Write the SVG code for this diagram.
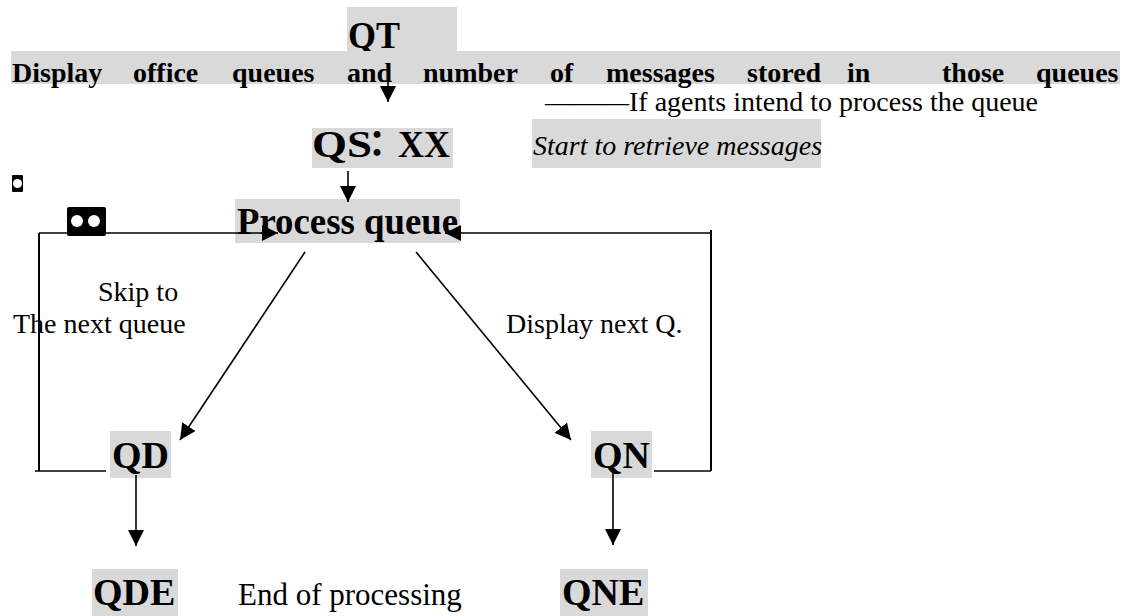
<svg xmlns="http://www.w3.org/2000/svg" width="1131" height="616" viewBox="0 0 1131 616">
<style>
.bg{fill:#d9d9d9}
.b{font-family:"Liberation Serif","Times New Roman",serif;font-weight:bold;fill:#000}
.r{font-family:"Liberation Serif","Times New Roman",serif;fill:#000}
.h{font-size:28px}
.n{font-size:38px}
.t{font-size:28px}
.ln{stroke:#000;stroke-width:1.6;fill:none}
.lv{stroke:#000;stroke-width:2;fill:none}
.ar{stroke:#000;stroke-width:1.6;fill:none;marker-end:url(#ah)}
</style>
<defs>
<marker id="ah" markerUnits="userSpaceOnUse" markerWidth="17" markerHeight="17" viewBox="0 0 17 17" refX="16" refY="8.5" orient="auto">
<path d="M0,0.5 L16,8.5 L0,16.5 Z" fill="#000"/>
</marker>
</defs>
<rect width="1131" height="616" fill="#fff"/>

<g id="node-qt">
<rect class="bg" x="347" y="7" width="110" height="45"/>
<text class="b n" x="348" y="48" textLength="52" lengthAdjust="spacingAndGlyphs">QT</text>
</g>

<g id="node-header">
<rect class="bg" x="11" y="51" width="1109" height="33"/>
<text class="b h" y="82"><tspan x="12">Display</tspan><tspan x="133">office</tspan><tspan x="232">queues</tspan><tspan x="347">and</tspan><tspan x="423">number</tspan><tspan x="550">of</tspan><tspan x="606">messages</tspan><tspan x="747">stored</tspan><tspan x="847">in</tspan><tspan x="942">those</tspan><tspan x="1036">queues</tspan></text>
</g>

<g id="note-agents">
<text class="r t" x="545" y="111">———If agents intend to process the queue</text>
</g>

<g id="node-qs">
<rect class="bg" x="312" y="128" width="141" height="40"/>
<text class="b n" y="157"><tspan x="312" textLength="60" lengthAdjust="spacingAndGlyphs">QS</tspan><tspan x="359" font-family="'Noto Sans CJK JP','Noto Sans CJK SC',sans-serif" font-size="36">：</tspan><tspan x="398" textLength="52" lengthAdjust="spacingAndGlyphs">XX</tspan></text>
</g>

<g id="note-start">
<rect class="bg" x="532" y="119" width="289" height="49"/>
<text class="r t" x="533" y="155" font-style="italic">Start to retrieve messages</text>
</g>

<g id="node-process">
<rect class="bg" x="235" y="199" width="225" height="44"/>
<text class="b n" x="237" y="234" textLength="221" lengthAdjust="spacingAndGlyphs">Process queue</text>
</g>

<g id="node-qd">
<rect class="bg" x="110" y="431" width="61" height="47"/>
<text class="b n" x="112" y="468">QD</text>
</g>

<g id="node-qn">
<rect class="bg" x="591" y="431" width="61" height="47"/>
<text class="b n" x="593" y="468">QN</text>
</g>

<g id="node-qde">
<rect class="bg" x="92" y="569" width="86" height="47"/>
<text class="b n" x="93" y="605">QDE</text>
</g>

<g id="node-qne">
<rect class="bg" x="560" y="569" width="88" height="47"/>
<text class="b n" x="562" y="605">QNE</text>
</g>

<g id="labels">
<text class="r t" x="98" y="301">Skip to</text>
<text class="r t" x="13" y="333">The next queue</text>
<text class="r t" x="506" y="333">Display next Q.</text>
<text class="r" font-size="31" x="238" y="605">End of processing</text>
</g>

<g id="connectors">
<line class="ar" x1="388" y1="63" x2="388" y2="102"/>
<line class="ar" x1="348" y1="171" x2="348" y2="202"/>
<line class="ar" x1="305" y1="252" x2="180" y2="440"/>
<line class="ar" x1="416" y1="252" x2="571" y2="440"/>
<line class="ar" x1="136" y1="475" x2="136" y2="546"/>
<line class="ar" x1="613" y1="473" x2="613" y2="545"/>
<polyline class="ln" points="106,471 35,471"/>
<line class="lv" x1="39" y1="471" x2="39" y2="233"/>
<line class="ar" x1="39" y1="233" x2="278" y2="233"/>
<polyline class="ln" points="654,471 711,471"/>
<line class="lv" x1="711" y1="471" x2="711" y2="230"/>
<line class="ar" x1="711" y1="233" x2="445" y2="233"/>
</g>

<g id="marks">
<rect x="12" y="175" width="11" height="17" rx="1" fill="#000"/>
<circle cx="17.5" cy="183.5" r="4.5" fill="#fff"/>
<rect x="67" y="207" width="39" height="29" rx="2" fill="#000"/>
<circle cx="77" cy="221" r="6" fill="#fff"/>
<circle cx="94" cy="221" r="6" fill="#fff"/>
</g>
</svg>
